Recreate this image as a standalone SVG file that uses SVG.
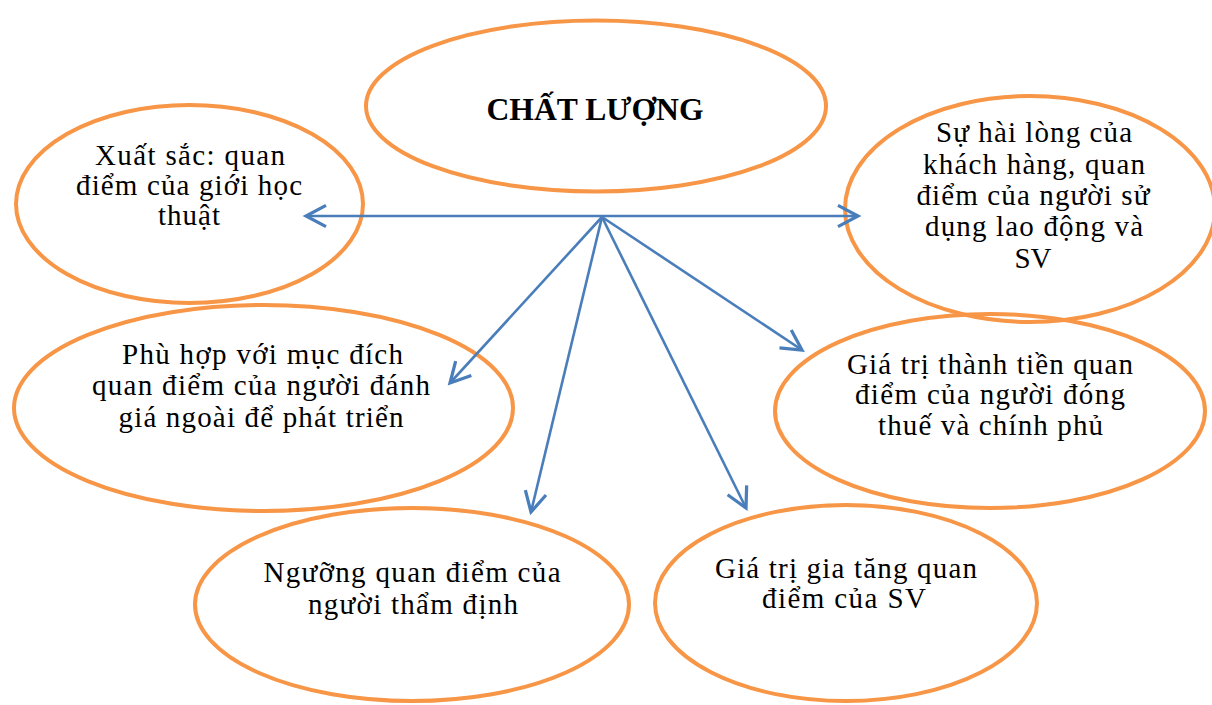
<svg xmlns="http://www.w3.org/2000/svg" width="1212" height="705" viewBox="0 0 1212 705">
<style>
.node ellipse{fill:none;stroke:#F79646;stroke-width:4}
.t{font-family:"Liberation Serif","Times New Roman",serif;font-size:29px;fill:#000;text-anchor:middle}
.b{font-family:"Liberation Serif","Times New Roman",serif;font-size:31px;font-weight:bold;fill:#000;text-anchor:middle}
.c line{stroke:#4A7EBB;stroke-width:2.6;marker-end:url(#ah)}
</style>
<defs>
<marker id="ah" markerUnits="userSpaceOnUse" markerWidth="30" markerHeight="30" refX="0" refY="0" viewBox="-20 -12 24 24" orient="auto-start-reverse" overflow="visible">
<path d="M-16,-8.5 L0,0 L-16,8.5" fill="none" stroke="#4A7EBB" stroke-width="2.6" stroke-linejoin="miter"/>
</marker>
</defs>
<g id="n-chat-luong" class="node">
<ellipse cx="596" cy="106" rx="230" ry="85.5"/>
<text class="b" x="595" y="120" textLength="217" lengthAdjust="spacingAndGlyphs">CHẤT LƯỢNG</text>
</g>
<g id="n-xuat-sac" class="node">
<ellipse cx="189.5" cy="204" rx="173.5" ry="99"/>
<text class="t" x="190" y="165" textLength="190" lengthAdjust="spacing">Xuất sắc: quan</text>
<text class="t" x="189" y="195" textLength="226" lengthAdjust="spacing">điểm của giới học</text>
<text class="t" x="189" y="225" textLength="62" lengthAdjust="spacing">thuật</text>
</g>
<g id="n-su-hai-long" class="node">
<ellipse cx="1030" cy="209" rx="185" ry="113"/>
<text class="t" x="1034" y="142" textLength="196" lengthAdjust="spacing">Sự hài lòng của</text>
<text class="t" x="1034" y="173.5" textLength="222" lengthAdjust="spacing">khách hàng, quan</text>
<text class="t" x="1033" y="204.5" textLength="233" lengthAdjust="spacing">điểm của người sử</text>
<text class="t" x="1034" y="235.5" textLength="218" lengthAdjust="spacing">dụng lao động và</text>
<text class="t" x="1033" y="267.5" textLength="37" lengthAdjust="spacing">SV</text>
</g>
<g id="n-phu-hop" class="node">
<ellipse cx="263.5" cy="408" rx="249.5" ry="103"/>
<text class="t" x="262.5" y="363.5" textLength="281" lengthAdjust="spacing">Phù hợp với mục đích</text>
<text class="t" x="261" y="395" textLength="338" lengthAdjust="spacing">quan điểm của người đánh</text>
<text class="t" x="261" y="426.5" textLength="285" lengthAdjust="spacing">giá ngoài để phát triển</text>
</g>
<g id="n-gia-tri-thanh-tien" class="node">
<ellipse cx="990" cy="411" rx="215" ry="97"/>
<text class="t" x="990" y="373.5" textLength="286" lengthAdjust="spacing">Giá trị thành tiền quan</text>
<text class="t" x="990" y="404" textLength="270" lengthAdjust="spacing">điểm của người đóng</text>
<text class="t" x="990.5" y="435" textLength="225" lengthAdjust="spacing">thuế và chính phủ</text>
</g>
<g id="n-nguong" class="node">
<ellipse cx="412" cy="604.5" rx="217" ry="96.5"/>
<text class="t" x="412" y="581.5" textLength="297" lengthAdjust="spacing">Ngưỡng quan điểm của</text>
<text class="t" x="413" y="613.5" textLength="210" lengthAdjust="spacing">người thẩm định</text>
</g>
<g id="n-gia-tri-gia-tang" class="node">
<ellipse cx="846" cy="603" rx="191" ry="98"/>
<text class="t" x="846" y="577.5" textLength="262" lengthAdjust="spacing">Giá trị gia tăng quan</text>
<text class="t" x="844" y="607.5" textLength="164" lengthAdjust="spacing">điểm của SV</text>
</g>
<g id="connectors" class="c">
<line x1="306" y1="216" x2="858" y2="216" style="marker-start:url(#ah)"/>
<line x1="602" y1="217" x2="450" y2="383"/>
<line x1="602" y1="217" x2="531" y2="512"/>
<line x1="602" y1="217" x2="746" y2="508"/>
<line x1="602" y1="217" x2="802" y2="350"/>
</g>
</svg>
